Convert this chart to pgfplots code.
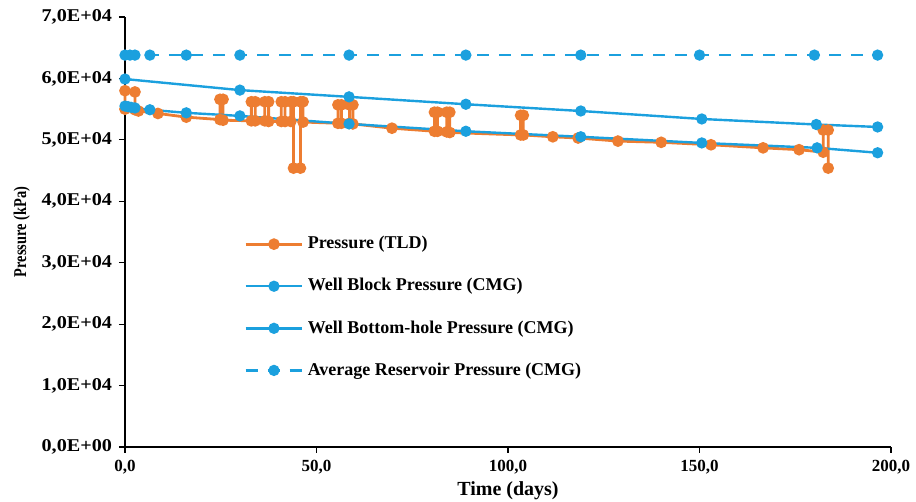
\documentclass[border=0pt]{standalone}
\usepackage{fontspec}
\setmainfont{Liberation Serif}
\newfontfamily\widefont[FakeStretch=1.12]{Liberation Serif}
\newfontfamily\narrowfont[FakeStretch=0.8]{Liberation Serif}
\usepackage{pgfplots}
\pgfplotsset{compat=1.18}
\definecolor{tldorange}{RGB}{237,125,49}
\definecolor{cmgblue}{RGB}{27,160,222}

\begin{document}
\begin{tikzpicture}
\begin{axis}[
  at={(0,0)}, anchor=south west,
  scale only axis,
  width=383pt, height=215pt,
  xmin=0, xmax=200, ymin=0, ymax=70000,
  scaled y ticks=false,
  axis lines=left,
  axis line style={-, black, line width=0.6pt},
  xtick={0,50,100,150,200},
  xticklabels={{0,0},{50,0},{100,0},{150,0},{200,0}},
  ytick={0,10000,20000,30000,40000,50000,60000,70000},
  yticklabels={{0,0E+00},{1,0E+04},{2,0E+04},{3,0E+04},{4,0E+04},{5,0E+04},{6,0E+04},{7,0E+04}},
  tick align=outside,
  major tick length=3pt,
  tick style={black, line width=0.6pt},
  xticklabel style={font=\bfseries\fontsize{8.5}{10}\selectfont},
  yticklabel style={font=\widefont\bfseries\fontsize{9}{10}\selectfont},
  xlabel={Time (days)},
  ylabel={Pressure (kPa)},
  xlabel style={font=\bfseries\fontsize{10}{12}\selectfont, yshift=3pt},
  ylabel style={font=\narrowfont\bfseries\fontsize{9}{11}\selectfont, yshift=-1pt},
  legend style={at={(0.155,0.50)}, anchor=north west, draw=none, fill=none,
    font=\bfseries\fontsize{9}{10}\selectfont, row sep=9.3pt, inner sep=0pt},
  legend cell align=left,
  legend image code/.code={\draw[mark repeat=2,mark phase=2] plot coordinates {(0cm,0cm)(0.5cm,0cm)(1cm,0cm)};},
  clip=false,
]
\addplot[tldorange, line width=1.4pt, mark=*, mark size=2.2pt, mark options={solid, fill=tldorange}] coordinates {
(0,55000)(0,58000)(2.6,57800)(2.6,54900)(3.5,54700)(8.6,54300)(16,53700)
(24.8,53300)(24.8,56600)(25.6,56600)(25.6,53200)
(33,53100)(33,56200)(34,56200)(34,53100)
(36.5,53100)(36.5,56200)(37.5,56200)(37.5,53000)
(40.8,53000)(40.8,56200)(41.8,56200)(41.8,53000)
(43.3,53000)(43.3,56200)(44,56200)(44,45400)(45.8,45400)(45.8,56200)(46.5,56200)(46.5,52900)
(55.6,52700)(55.6,55700)(56.5,55700)(56.5,52700)
(58.6,52700)(58.6,55700)(59.5,55700)(59.5,52600)
(69.7,51900)
(80.8,51400)(80.8,54500)(81.6,54500)(81.6,51400)
(84,51300)(84,54500)(84.8,54500)(84.8,51200)
(103.3,50800)(103.3,54000)(104,54000)(104,50800)
(111.7,50500)(118.3,50300)(128.7,49800)(140,49600)(153,49200)(166.6,48700)(176,48400)
(182.3,48000)(182.3,51600)(183.6,51600)(183.6,45400)
};
\addlegendentry{Pressure (TLD)}
\addplot[cmgblue, line width=1.2pt, mark=*, mark size=2.2pt, mark options={solid, fill=cmgblue}] coordinates {
(0,59900)(30,58100)(58.5,57000)(89,55800)(119,54700)(150.6,53400)(180.5,52500)(196.5,52100)
};
\addlegendentry{Well Block Pressure (CMG)}
\addplot[cmgblue, line width=1.2pt, mark=*, mark size=2.2pt, mark options={solid, fill=cmgblue}] coordinates {
(0,55500)(0.8,55400)(1.6,55300)(2.6,55200)(6.5,54900)(16,54400)(30,53900)(58.5,52600)(89,51400)(119,50500)(150.6,49500)(180.7,48700)(196.5,47900)
};
\addlegendentry{Well Bottom-hole Pressure (CMG)}
\addplot[cmgblue, line width=1.2pt, dash pattern=on 6pt off 5pt, mark=*, mark size=2.2pt, mark options={solid, fill=cmgblue}] coordinates {
(0,63800)(1.3,63800)(2.6,63800)(6.5,63800)(16,63800)(30,63800)(58.5,63800)(89,63800)(119,63800)(150,63800)(180,63800)(196.5,63800)
};
\addlegendentry{Average Reservoir Pressure (CMG)}
\end{axis}
\pgfresetboundingbox
\path (-62.5pt,-27.5pt) rectangle (395.5pt,223.5pt);
\end{tikzpicture}
\end{document}
